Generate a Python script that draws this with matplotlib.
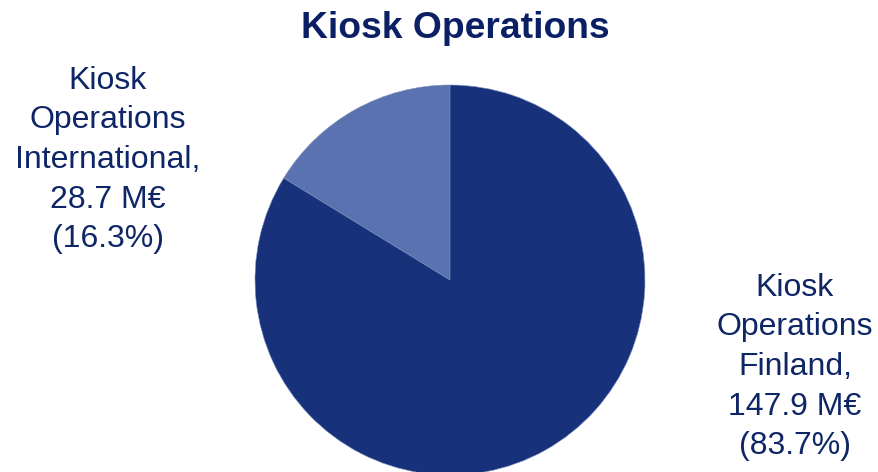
import matplotlib
matplotlib.use("Agg")
import matplotlib.pyplot as plt

plt.rcParams['font.family'] = ['Liberation Sans', 'DejaVu Sans']

segments = ["Kiosk\nOperations\nInternational", "Kiosk\nOperations\nFinland"]
values_meur = [28.7, 147.9]
shares_pct = [16.3, 83.7]
colors = ["#5A72B0", "#17327A"]
text_color = "#0E2566"

W, H = 879, 472
fig = plt.figure(figsize=(W / 100, H / 100), dpi=100)
ax = fig.add_axes([0, 0, 1, 1])

cx, cy, r = 450, H - 280, 195
ax.pie(values_meur, colors=colors, startangle=90, counterclock=True,
       center=(cx, cy), radius=r, frame=True,
       wedgeprops=dict(edgecolor="#8090C0", linewidth=0.4))
ax.set_xlim(0, W)
ax.set_ylim(0, H)
ax.set_aspect("equal")
ax.axis("off")

label_pos = [(108, H - 160), (795, H - 367)]
for name, v, p, (x, y) in zip(segments, values_meur, shares_pct, label_pos):
    txt = f"{name},\n{v:.1f} M€\n({p:.1f}%)"
    ax.text(x, y, txt, ha="center", va="center", fontsize=23,
            color=text_color, linespacing=1.42)

fig.text(455 / W, 1 - 28 / H, "Kiosk Operations", ha="center", va="center",
         fontsize=26.8, fontweight="bold", color="#0B2064")

fig.savefig("out.png", dpi=100)
